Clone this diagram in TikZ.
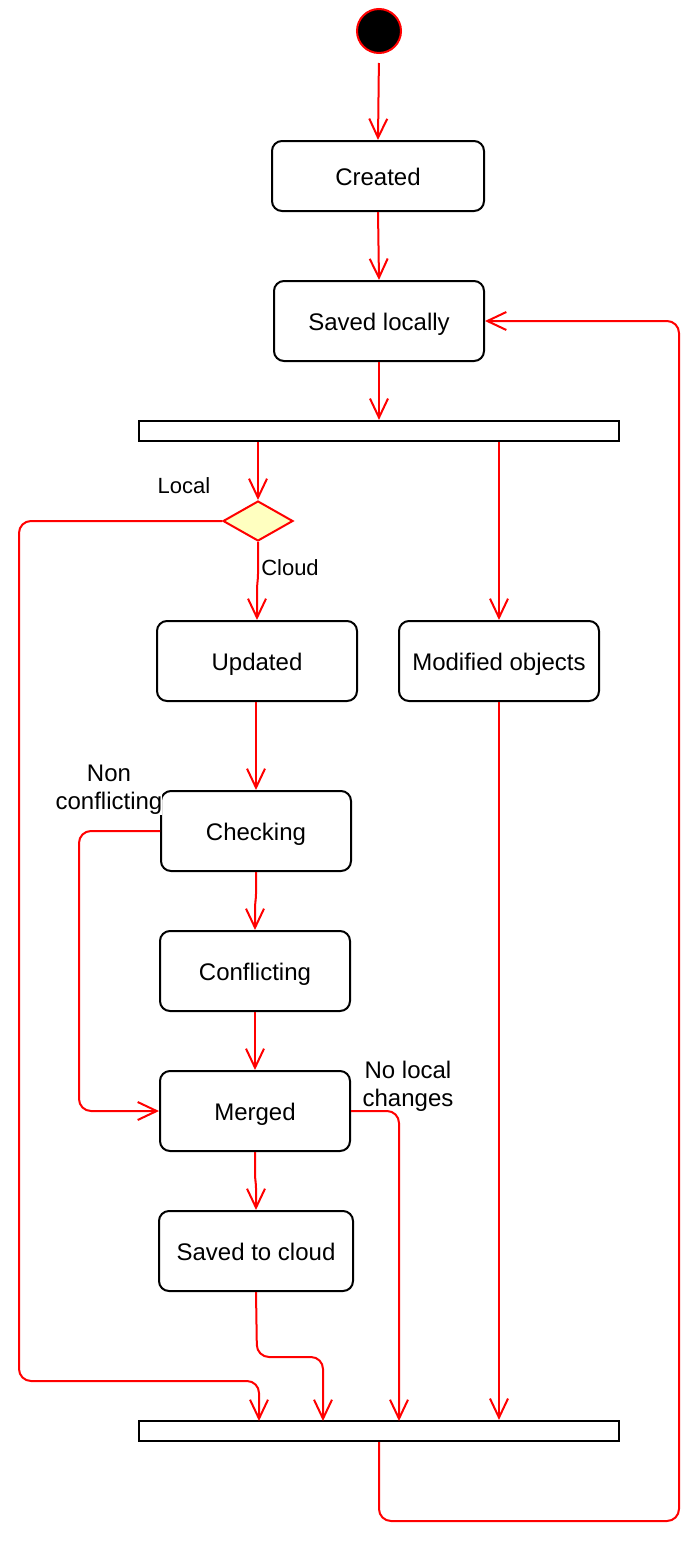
\documentclass[tikz,border=0pt]{standalone}
\usepackage{fontspec}
\setmainfont{Liberation Sans}
\usetikzlibrary{arrows.meta,shapes.geometric}
\definecolor{decfill}{HTML}{FFFFC0}
\tikzset{
  box/.style={draw=black,line width=2pt,rounded corners=10pt,fill=white,
    font=\fontsize{24}{28}\selectfont,text height=19pt,text depth=1pt,inner sep=0pt},
  bar/.style={draw=black,line width=2.2pt,fill=white,minimum width=480pt,minimum height=20pt,inner sep=0pt},
  flow/.style={draw=red,line width=2pt,rounded corners=12pt,-{Straight Barb[length=19pt,width=18pt]}},
  lbl/.style={font=\fontsize{24}{28}\selectfont,align=center,inner sep=0pt},
  slbl/.style={font=\fontsize{22}{26}\selectfont,inner sep=0pt},
}
\begin{document}
\begin{tikzpicture}[x=1pt,y=-1pt]
\useasboundingbox (0,0) rectangle (700,1542);
% nodes
\node[circle,draw=red,fill=black,line width=2pt,minimum size=44pt,inner sep=0pt] (start) at (379,31) {};
\node[box,minimum width=212pt,minimum height=70pt] (created) at (378,176) {Created};
\node[box,minimum width=210pt,minimum height=80pt] (savedl) at (379,321) {Saved locally};
\node[bar] (fork) at (379,431) {};
\node[diamond,draw=red,fill=decfill,line width=2pt,minimum width=70pt,minimum height=40pt,inner sep=0pt] (dec) at (258,521) {};
\node[box,minimum width=200pt,minimum height=80pt] (updated) at (257,661) {Updated};
\node[box,minimum width=200pt,minimum height=80pt] (modified) at (499,661) {Modified objects};
\node[box,minimum width=190pt,minimum height=80pt] (checking) at (256,831) {Checking};
\node[box,minimum width=190pt,minimum height=80pt] (conflicting) at (255,971) {Conflicting};
\node[box,minimum width=190pt,minimum height=80pt] (merged) at (255,1111) {Merged};
\node[box,minimum width=194pt,minimum height=80pt] (savedc) at (256,1251) {Saved to cloud};
\node[bar] (join) at (379,1431) {};
% join inputs
\coordinate (j1) at (259,1421);
\coordinate (j2) at (323,1421);
\coordinate (j3) at (399,1421);
% labels
\node[slbl,anchor=base] (llocal) at (184,493) {Local};
\node[slbl,anchor=base] (lcloud) at (290,575) {Cloud};
\node[lbl,fill=white] (lnon) at (109,790) {Non\\conflicting};
\node[lbl] (lnolocal) at (408,1086) {No local\\changes};
% connectors
\draw[flow,shorten <=9pt] (start.south) -- (created.north);
\draw[flow] (created.south) -- (savedl.north);
\draw[flow] (savedl.south) -- (fork.north);
\draw[flow] (fork.south -| dec.north) -- (dec.north);
\draw[flow,rounded corners=4pt] (dec.south) -- ++(0,36) -- ([yshift=34pt]updated.north) -- (updated.north);
\draw[flow] (dec.west) -- (19,521) -- (19,1381) -- (259,1381) -- (j1);
\draw[flow] (fork.south -| modified.north) -- (modified.north);
\draw[flow] (updated.south -| checking.north) -- (checking.north);
\draw[flow] (checking.west) -- (79,831) -- (79,1111) -- (merged.west);
\draw[flow,rounded corners=4pt] (checking.south) -- ++(0,26) -- ([yshift=26pt]conflicting.north) -- (conflicting.north);
\draw[flow] (conflicting.south) -- (merged.north);
\draw[flow] (merged.east) -- (399,1111) -- (j3);
\draw[flow,rounded corners=4pt] (merged.south) -- ++(0,26) -- ([yshift=26pt]savedc.north) -- (savedc.north);
\draw[flow] (savedc.south) -- (257,1357) -- (323,1357) -- (j2);
\draw[flow] (modified.south) -- (modified.south |- join.north);
\draw[flow] (join.south) -- (379,1521) -- (679,1521) -- (679,321) -- (savedl.east);
\end{tikzpicture}
\end{document}
